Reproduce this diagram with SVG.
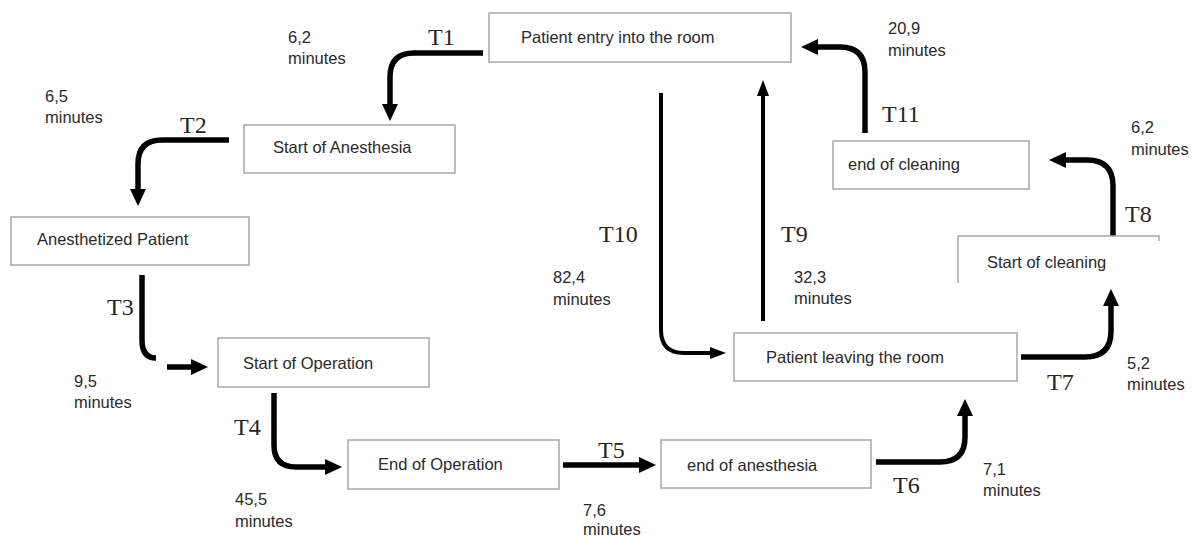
<svg xmlns="http://www.w3.org/2000/svg" width="1192" height="539" viewBox="0 0 1192 539">
<style>
.box{fill:#fff;stroke:#a8a8a8;stroke-width:1.5}
.nt{font-family:"Liberation Sans",Arial,sans-serif;font-size:16.5px;fill:#2a2a2a}
.tm{font-family:"Liberation Sans",Arial,sans-serif;font-size:16.5px;fill:#2a2a2a}
.tl{font-family:"Liberation Serif","Times New Roman",serif;font-size:24px;fill:#2a2520}
.c{fill:none;stroke:#000;stroke-width:5.5}
.ct{fill:none;stroke:#000;stroke-width:4}
</style>
<defs>
<marker id="ah" markerUnits="userSpaceOnUse" viewBox="0 0 17 16" markerWidth="17" markerHeight="16" refX="1" refY="8" orient="auto">
<path d="M0,0 L17,8 L0,16 z" fill="#000"/>
</marker>
<marker id="ahs" markerUnits="userSpaceOnUse" viewBox="0 0 16 12" markerWidth="16" markerHeight="12" refX="1" refY="6" orient="auto">
<path d="M0,0 L16,6 L0,12 z" fill="#000"/>
</marker>
</defs>
<rect width="1192" height="539" fill="#fff"/>

<g id="connectors">
<path id="T1" class="c" d="M483 53 H414 Q390 53 390 77 V105" marker-end="url(#ah)"/>
<path id="T2" class="c" d="M229 140 H162 Q138 140 138 164 V190" marker-end="url(#ah)"/>
<path id="T3" class="c" d="M142 275 V340 Q142 358 156 358"/>
<path id="T3b" class="c" d="M167 367 H192" marker-end="url(#ah)"/>
<path id="T4" class="c" d="M274 393 V445 Q274 467 296 467 H326" marker-end="url(#ah)"/>
<path id="T5" class="c" d="M563 465 H640" marker-end="url(#ah)"/>
<path id="T6" class="c" d="M876 462 H940 Q965 462 965 437 V415" marker-end="url(#ah)"/>
<path id="T7" class="c" d="M1021 357 H1085 Q1111 357 1111 331 V305" marker-end="url(#ah)"/>
<path id="T8" class="c" d="M1113 236 V186 Q1113 160 1087 160 H1065" marker-end="url(#ah)"/>
<path id="T9" class="ct" d="M763 321 V95" marker-end="url(#ahs)"/>
<path id="T10" class="ct" d="M661 93 V330 Q661 353 684 353 H711" marker-end="url(#ahs)"/>
<path id="T11" class="c" d="M865 133 V72 Q865 47 840 47 H817" marker-end="url(#ah)"/>
</g>

<g id="labels">
<text class="tl" x="428" y="45">T1</text>
<text class="tl" x="180" y="133">T2</text>
<text class="tl" x="107" y="315">T3</text>
<text class="tl" x="234" y="435">T4</text>
<text class="tl" x="598" y="458">T5</text>
<text class="tl" x="893" y="493">T6</text>
<text class="tl" x="1047" y="390">T7</text>
<text class="tl" x="1125" y="222">T8</text>
<text class="tl" x="781" y="242">T9</text>
<text class="tl" x="599" y="242">T10</text>
<text class="tl" x="882" y="122">T11</text>

<text class="tm" x="288" y="43">6,2</text><text class="tm" x="288" y="64">minutes</text>
<text class="tm" x="45" y="102">6,5</text><text class="tm" x="45" y="123">minutes</text>
<text class="tm" x="74" y="387">9,5</text><text class="tm" x="74" y="408">minutes</text>
<text class="tm" x="235" y="505">45,5</text><text class="tm" x="235" y="527">minutes</text>
<text class="tm" x="583" y="516">7,6</text><text class="tm" x="583" y="535">minutes</text>
<text class="tm" x="983" y="475">7,1</text><text class="tm" x="983" y="496">minutes</text>
<text class="tm" x="1127" y="369">5,2</text><text class="tm" x="1127" y="390">minutes</text>
<text class="tm" x="553" y="283">82,4</text><text class="tm" x="553" y="305">minutes</text>
<text class="tm" x="794" y="283">32,3</text><text class="tm" x="794" y="304">minutes</text>
<text class="tm" x="888" y="34">20,9</text><text class="tm" x="888" y="56">minutes</text>
<text class="tm" x="1131" y="133">6,2</text><text class="tm" x="1131" y="155">minutes</text>
</g>

<g id="n-entry"><rect class="box" x="489" y="13" width="302" height="49"/><text class="nt" x="521" y="43">Patient entry into the room</text></g>
<g id="n-start-anesthesia"><rect class="box" x="244" y="125" width="211" height="48"/><text class="nt" x="273" y="153">Start of Anesthesia</text></g>
<g id="n-anesthetized"><rect class="box" x="11" y="217" width="238" height="48"/><text class="nt" x="37" y="245">Anesthetized Patient</text></g>
<g id="n-start-operation"><rect class="box" x="218" y="338" width="211" height="49"/><text class="nt" x="243" y="369">Start of Operation</text></g>
<g id="n-end-operation"><rect class="box" x="348" y="440" width="211" height="49"/><text class="nt" x="378" y="470">End of Operation</text></g>
<g id="n-end-anesthesia"><rect class="box" x="661" y="440" width="210" height="48"/><text class="nt" x="687" y="471">end of anesthesia</text></g>
<g id="n-leaving"><rect class="box" x="734" y="333" width="283" height="48"/><text class="nt" x="766" y="363">Patient leaving the room</text></g>
<g id="n-start-cleaning"><path class="box" fill="none" d="M958 283 V236 H1159 V241"/><text class="nt" x="987" y="268">Start of cleaning</text></g>
<g id="n-end-cleaning"><rect class="box" x="833" y="141" width="196" height="48"/><text class="nt" x="848" y="170">end of cleaning</text></g>
</svg>
